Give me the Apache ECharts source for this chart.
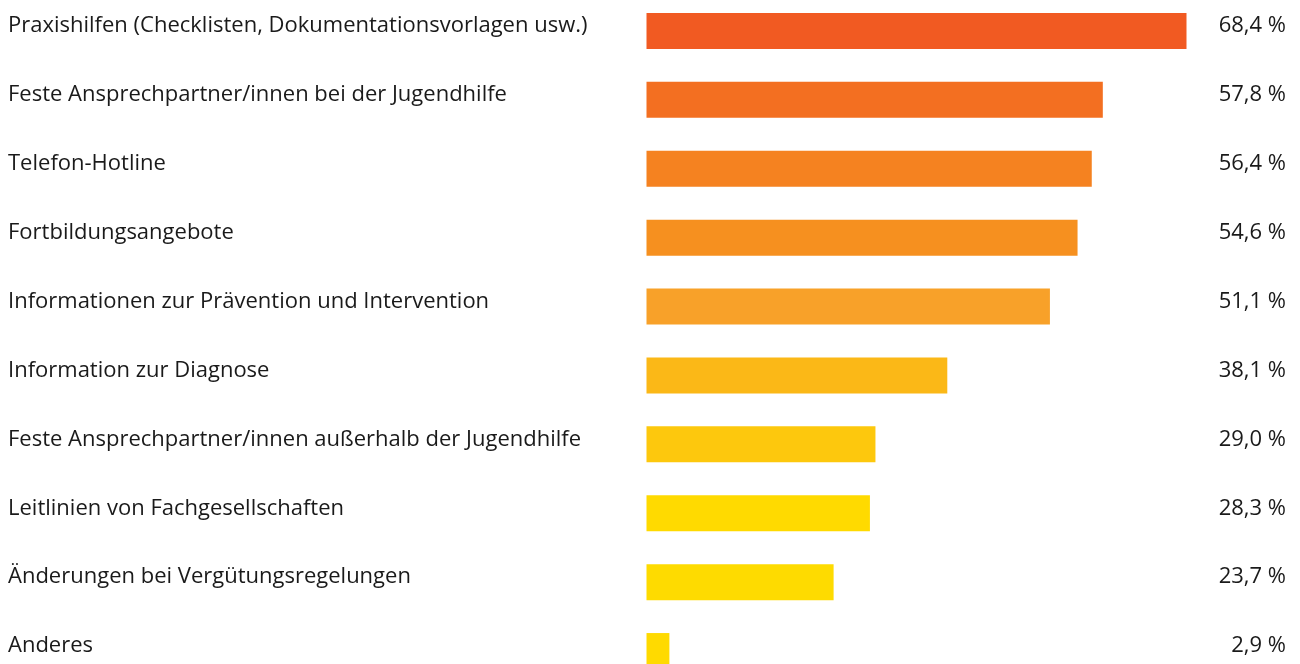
<!DOCTYPE html>
<html>
<head>
<meta charset="utf-8">
<script src="https://cdn.jsdelivr.net/npm/echarts@6/dist/echarts.min.js"></script>
<style>
  html, body { margin: 0; padding: 0; background: #fff; }
  #chart { width: 1300px; height: 664px; }
</style>
</head>
<body>
<div id="chart"></div>
<script>
// Gewünschte Unterstützungsangebote (Anteil in %)
const categories = [
  'Praxishilfen (Checklisten, Dokumentationsvorlagen usw.)',
  'Feste Ansprechpartner/innen bei der Jugendhilfe',
  'Telefon-Hotline',
  'Fortbildungsangebote',
  'Informationen zur Prävention und Intervention',
  'Information zur Diagnose',
  'Feste Ansprechpartner/innen außerhalb der Jugendhilfe',
  'Leitlinien von Fachgesellschaften',
  'Änderungen bei Vergütungsregelungen',
  'Anderes'
];
const values = [68.4, 57.8, 56.4, 54.6, 51.1, 38.1, 29.0, 28.3, 23.7, 2.9];
const barColors = [
  '#F15A22', '#F36F21', '#F58220', '#F6901F', '#F8A129',
  '#FBB817', '#FDC80D', '#FFDA00', '#FEDB00', '#FFDA00'
];

const fmt = v => v.toFixed(1).replace('.', ',') + ' %';
const valueLabels = values.map(fmt);

const chart = echarts.init(document.getElementById('chart'), null, { renderer: 'canvas' });

const gridLeft = 646.5;
const xMax = 70;
const pxPerUnit = 540 / 68.4;
const gridWidth = xMax * pxPerUnit;

// Labels sit a little above the bar centre: an empty second line pushes the text up.
const labelRich = {
  t: {
    fontFamily: '"Open Sans", sans-serif',
    fontSize: 22,
    lineHeight: 22,
    color: '#1a1a1a'
  },
  g: { fontSize: 1, lineHeight: 10, height: 10 }
};
const lifted = v => '{t|' + v + '}\n{g| }';

chart.setOption({
  animation: false,
  backgroundColor: '#ffffff',
  grid: {
    left: gridLeft,
    width: gridWidth,
    top: -3.5,
    height: 689,
    containLabel: false,
    outerBoundsMode: 'none'
  },
  xAxis: {
    type: 'value',
    min: 0,
    max: xMax,
    show: false
  },
  yAxis: [
    {
      type: 'category',
      data: categories,
      inverse: true,
      position: 'left',
      axisLine: { show: false },
      axisTick: { show: false },
      splitLine: { show: false },
      axisLabel: {
        align: 'left',
        verticalAlign: 'middle',
        margin: gridLeft - 8,
        formatter: lifted,
        rich: labelRich
      }
    },
    {
      type: 'category',
      data: valueLabels,
      inverse: true,
      position: 'right',
      axisLine: { show: false },
      axisTick: { show: false },
      splitLine: { show: false },
      axisLabel: {
        align: 'right',
        verticalAlign: 'middle',
        margin: 1286 - (gridLeft + gridWidth),
        formatter: lifted,
        rich: labelRich
      }
    }
  ],
  series: [{
    type: 'bar',
    yAxisIndex: 0,
    data: values.map((v, i) => ({ value: v, itemStyle: { color: barColors[i] } })),
    barWidth: 36,
    silent: true
  }]
});
</script>
</body>
</html>
